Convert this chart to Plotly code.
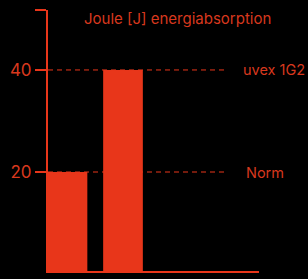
import plotly.graph_objects as go

# Data
categories = [0, 1]
values = [20, 40]
ref_values = [40, 20]
ref_labels = ["uvex 1G2", "Norm"]
title_text = "Joule [J] energiabsorption"

BAR = "#E8361A"
TXT = "#D8381E"
FONT = "Inter, Roboto, sans-serif"

x_range = [-0.351, 3.45]
y_range = [0.6, 51.75]

fig = go.Figure()
fig.add_trace(go.Bar(x=categories, y=values, width=0.715, marker=dict(color=BAR, line=dict(width=0)),
                     hoverinfo="skip"))

for v, lab, lx in zip(ref_values, ref_labels, [0.929, 0.943]):
    fig.add_shape(type="line", xref="paper", yref="y", x0=0, x1=0.84, y0=v, y1=v,
                  line=dict(color=BAR, width=1, dash="5px,4px"), layer="above")
    fig.add_annotation(xref="paper", yref="y", x=lx, y=v, xshift=-3, text=lab, showarrow=False,
                       xanchor="left", yanchor="middle", font=dict(family=FONT, size=14.5, color=TXT))

fig.add_annotation(xref="paper", yref="paper", x=0.615, y=1.0, yshift=-8, text=title_text,
                   showarrow=False, xanchor="center", yanchor="middle",
                   font=dict(family=FONT, size=15, color=TXT))

fig.update_layout(
    width=308, height=279,
    margin=dict(l=48, r=49, t=10, b=8),
    paper_bgcolor="black", plot_bgcolor="black",
    showlegend=False,
    xaxis=dict(range=x_range, showgrid=False, zeroline=False, showline=True, linecolor=BAR,
               linewidth=2, ticks="inside", ticklen=6, tickwidth=2, tickcolor=BAR,
               tickvals=[x_range[1] - 0.005], ticktext=[""], showticklabels=False),
    yaxis=dict(range=y_range, showgrid=False, zeroline=False, showline=True, linecolor=BAR,
               linewidth=2, ticks="outside", ticklen=11, tickwidth=2, tickcolor=BAR,
               tickvals=[20, 40, y_range[1] - 0.05], ticktext=["20", "40", ""],
               tickfont=dict(family=FONT, size=17, color=TXT)),
)

fig.write_html("out.html", config={"displayModeBar": False},
               post_script="document.body.style.margin='0';document.body.style.overflow='hidden';document.body.style.background='black';")
